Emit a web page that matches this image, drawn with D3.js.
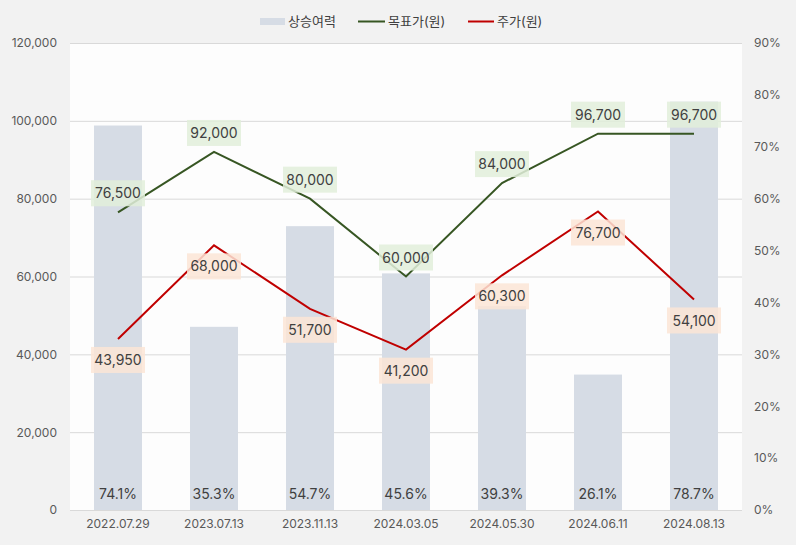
<!DOCTYPE html>
<html>
<head>
<meta charset="utf-8">
<script src="https://cdn.jsdelivr.net/npm/d3@7"></script>
<style>
  body { margin: 0; background: #f2f2f2; }
  svg { display: block; font-family: Inter, "Noto Sans CJK KR", sans-serif; }
</style>
</head>
<body>
<svg id="chart" width="796" height="545"></svg>
<script>
// data
const dates = ["2022.07.29", "2023.07.13", "2023.11.13", "2024.03.05", "2024.05.30", "2024.06.11", "2024.08.13"];
const upside = [74.1, 35.3, 54.7, 45.6, 39.3, 26.1, 78.7];
const targetPrice = [76500, 92000, 80000, 60000, 84000, 96700, 96700];
const stockPrice = [43950, 68000, 51700, 41200, 60300, 76700, 54100];
const leftTicks = [0, 20000, 40000, 60000, 80000, 100000, 120000];
const rightTicks = [0, 10, 20, 30, 40, 50, 60, 70, 80, 90];

const margin = { top: 43, right: 54, bottom: 35, left: 70 };
const width = 796, height = 545;

const svg = d3.select("#chart");

const x = d3.scaleBand().domain(dates).range([margin.left, width - margin.right])
  .paddingInner(0.5).paddingOuter(0.25);
const y = d3.scaleLinear().domain([0, 120000]).range([height - margin.bottom, margin.top]);
const yR = d3.scaleLinear().domain([0, 90]).range([height - margin.bottom, margin.top]);

// plot background
svg.append("rect")
  .attr("x", margin.left).attr("y", margin.top)
  .attr("width", width - margin.left - margin.right)
  .attr("height", height - margin.top - margin.bottom)
  .attr("fill", "#fdfdfd");

// grid lines
svg.append("g").selectAll("line")
  .data(leftTicks)
  .join("line")
  .attr("x1", margin.left).attr("x2", width - margin.right)
  .attr("y1", d => y(d) + 0.5).attr("y2", d => y(d) + 0.5)
  .attr("stroke", "#d9d9d9");

// axes
const leftAxis = svg.append("g")
  .attr("transform", `translate(${margin.left},0)`)
  .call(d3.axisLeft(y).tickValues(leftTicks).tickSize(0).tickPadding(13).tickFormat(d3.format(",")));
const rightAxis = svg.append("g")
  .attr("transform", `translate(${width - margin.right},0)`)
  .call(d3.axisRight(yR).tickValues(rightTicks).tickSize(0).tickPadding(12).tickFormat(d => d + "%"));
const bottomAxis = svg.append("g")
  .attr("transform", `translate(0,${height - margin.bottom})`)
  .call(d3.axisBottom(x).tickSize(0).tickPadding(9));

[leftAxis, rightAxis, bottomAxis].forEach(a => {
  a.select(".domain").remove();
  a.selectAll("text").attr("font-size", 12).attr("fill", "#595959").attr("font-family", "Inter, sans-serif");
});
bottomAxis.append("line")
  .attr("x1", margin.left).attr("x2", width - margin.right)
  .attr("y1", 0.5).attr("y2", 0.5).attr("stroke", "#d9d9d9");

// bars
svg.append("g").selectAll("rect")
  .data(upside)
  .join("rect")
  .attr("x", (d, i) => x(dates[i]))
  .attr("y", d => yR(d))
  .attr("width", x.bandwidth())
  .attr("height", d => yR(0) - yR(d))
  .attr("fill", "#d6dce5");

svg.append("g").selectAll("text")
  .data(upside)
  .join("text")
  .attr("x", (d, i) => x(dates[i]) + x.bandwidth() / 2)
  .attr("y", height - margin.bottom - 11)
  .attr("text-anchor", "middle")
  .attr("font-size", 14)
  .attr("fill", "#404040")
  .text(d => d.toFixed(1) + "%");

// lines
const cx = i => x(dates[i]) + x.bandwidth() / 2;
const line = d3.line().x((d, i) => cx(i)).y(d => y(d));

svg.append("path").datum(targetPrice)
  .attr("d", line).attr("fill", "none")
  .attr("stroke", "#375623").attr("stroke-width", 2);
svg.append("path").datum(stockPrice)
  .attr("d", line).attr("fill", "none")
  .attr("stroke", "#c00000").attr("stroke-width", 2);

// data labels with boxes
function drawLabels(values, dy, bg) {
  const g = svg.append("g").selectAll("g")
    .data(values)
    .join("g")
    .attr("transform", (d, i) => `translate(${cx(i)},${y(d) + dy})`);
  g.append("rect")
    .attr("x", -27).attr("y", -13)
    .attr("width", 54).attr("height", 26)
    .attr("fill", bg).attr("fill-opacity", 0.85);
  g.append("text")
    .attr("text-anchor", "middle")
    .attr("dy", "0.36em")
    .attr("font-size", 14)
    .attr("fill", "#404040")
    .text(d => d3.format(",")(d));
}
drawLabels(targetPrice, -19, "#e2efda");
drawLabels(stockPrice, 21, "#fbe5d6");

// legend
const legend = svg.append("g").attr("font-size", 13).attr("fill", "#404040");
legend.append("rect").attr("x", 260).attr("y", 18).attr("width", 25).attr("height", 7).attr("fill", "#d6dce5");
legend.append("text").attr("x", 288).attr("y", 26).attr("fill", "#404040").text("상승여력");
legend.append("line").attr("x1", 358).attr("x2", 385).attr("y1", 21.5).attr("y2", 21.5).attr("stroke", "#375623").attr("stroke-width", 2);
legend.append("text").attr("x", 388).attr("y", 26).attr("fill", "#404040").text("목표가(원)");
legend.append("line").attr("x1", 468).attr("x2", 494).attr("y1", 21.5).attr("y2", 21.5).attr("stroke", "#c00000").attr("stroke-width", 2);
legend.append("text").attr("x", 497).attr("y", 26).attr("fill", "#404040").text("주가(원)");
</script>
</body>
</html>
